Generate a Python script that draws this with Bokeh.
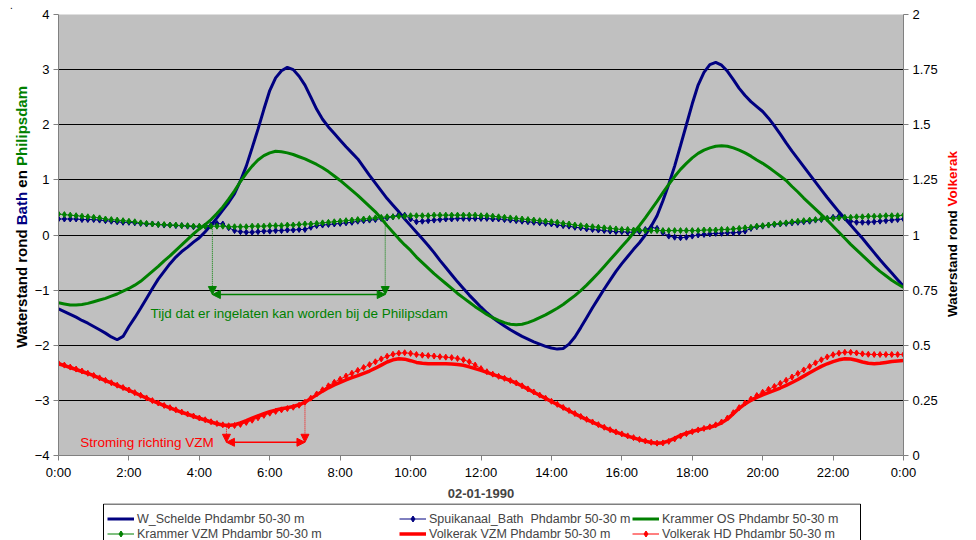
import numpy as np
from bokeh.plotting import figure
from bokeh.layouts import row, column
from bokeh.models import (Range1d, LinearAxis, FixedTicker, Label, Arrow,
                          NormalHead, Legend, LegendItem, ColumnDataSource, Div)
from bokeh.embed import file_html
from bokeh.resources import INLINE

# ---------------------------------------------------------------- data
# measurement times: 10-minute steps over 02-01-1990 (minutes after 0:00)
minutes = list(range(0, 1441, 10))

# water levels (m), one row per hour (6 readings), last value = 24:00
w_schelde = [
    -1.34, -1.39, -1.44, -1.49, -1.55, -1.60,
    -1.66, -1.72, -1.78, -1.85, -1.90, -1.84,
    -1.66, -1.50, -1.33, -1.15, -0.97, -0.80,
    -0.66, -0.52, -0.40, -0.30, -0.22, -0.13,
    -0.05, 0.06, 0.18, 0.31, 0.45, 0.59,
    0.75, 0.98, 1.25, 1.58, 1.92, 2.28,
    2.62, 2.85, 2.98, 3.04, 3.00, 2.88,
    2.72, 2.50, 2.28, 2.10, 1.96, 1.84,
    1.72, 1.60, 1.49, 1.38, 1.23, 1.08,
    0.94, 0.80, 0.66, 0.54, 0.42, 0.29,
    0.17, 0.05, -0.07, -0.19, -0.32, -0.46,
    -0.59, -0.72, -0.85, -0.97, -1.09, -1.20,
    -1.31, -1.41, -1.50, -1.58, -1.65, -1.72,
    -1.78, -1.84, -1.89, -1.94, -1.98, -2.02,
    -2.05, -2.07, -2.06, -1.98, -1.85, -1.68,
    -1.50, -1.32, -1.15, -0.98, -0.82, -0.66,
    -0.52, -0.39, -0.26, -0.14, 0.00, 0.16,
    0.35, 0.62, 0.92, 1.25, 1.62, 2.00,
    2.38, 2.72, 2.95, 3.09, 3.13, 3.08,
    2.97, 2.82, 2.66, 2.53, 2.42, 2.33,
    2.24, 2.12, 1.98, 1.83, 1.67, 1.52,
    1.38, 1.24, 1.10, 0.96, 0.82, 0.68,
    0.55, 0.42, 0.30, 0.18, 0.06, -0.06,
    -0.19, -0.32, -0.45, -0.57, -0.69, -0.81,
    -0.93,
]

spuikanaal_bath = [
    0.29, 0.29, 0.29, 0.29, 0.28, 0.28,
    0.28, 0.27, 0.26, 0.25, 0.24, 0.23,
    0.23, 0.22, 0.21, 0.20, 0.20, 0.19,
    0.18, 0.18, 0.17, 0.17, 0.16, 0.15,
    0.15, 0.16, 0.18, 0.21, 0.20, 0.13,
    0.08, 0.06, 0.05, 0.05, 0.06, 0.07,
    0.07, 0.08, 0.08, 0.09, 0.09, 0.10,
    0.10, 0.14, 0.17, 0.18, 0.19, 0.20,
    0.21, 0.22, 0.23, 0.25, 0.26, 0.27,
    0.28, 0.30, 0.31, 0.33, 0.37, 0.36,
    0.29, 0.24, 0.25, 0.26, 0.27, 0.28,
    0.29, 0.29, 0.30, 0.30, 0.30, 0.30,
    0.30, 0.30, 0.29, 0.29, 0.28, 0.27,
    0.26, 0.25, 0.24, 0.23, 0.22, 0.21,
    0.20, 0.18, 0.17, 0.16, 0.14, 0.13,
    0.11, 0.10, 0.09, 0.08, 0.07, 0.06,
    0.06, 0.05, 0.05, 0.06, 0.10, 0.14,
    0.12, 0.04, -0.02, -0.04, -0.05, -0.04,
    -0.02, 0.00, 0.01, 0.02, 0.03, 0.03,
    0.04, 0.04, 0.05, 0.07, 0.12, 0.15,
    0.16, 0.18, 0.19, 0.20, 0.21, 0.22,
    0.23, 0.24, 0.25, 0.27, 0.28, 0.30,
    0.32, 0.34, 0.31, 0.25, 0.23, 0.23,
    0.23, 0.24, 0.25, 0.26, 0.27, 0.28,
    0.29,
]

krammer_os = [
    -1.23, -1.25, -1.27, -1.27, -1.26, -1.24,
    -1.21, -1.18, -1.15, -1.11, -1.07, -1.02,
    -0.97, -0.91, -0.84, -0.75, -0.66, -0.57,
    -0.47, -0.38, -0.28, -0.18, -0.08, 0.02,
    0.11, 0.19, 0.28, 0.39, 0.51, 0.65,
    0.80, 0.97, 1.12, 1.25, 1.36, 1.44,
    1.49, 1.52, 1.51, 1.49, 1.46, 1.42,
    1.38, 1.33, 1.28, 1.22, 1.15, 1.07,
    0.99, 0.90, 0.81, 0.72, 0.62, 0.52,
    0.42, 0.30, 0.17, 0.05, -0.07, -0.18,
    -0.28, -0.40, -0.50, -0.60, -0.70, -0.79,
    -0.88, -0.97, -1.06, -1.14, -1.22, -1.30,
    -1.37, -1.44, -1.50, -1.55, -1.59, -1.62,
    -1.63, -1.62, -1.59, -1.55, -1.50, -1.45,
    -1.39, -1.33, -1.26, -1.18, -1.10, -1.01,
    -0.91, -0.80, -0.69, -0.57, -0.45, -0.33,
    -0.21, -0.09, 0.04, 0.17, 0.31, 0.46,
    0.61, 0.77, 0.92, 1.06, 1.19, 1.30,
    1.40, 1.48, 1.54, 1.58, 1.61, 1.62,
    1.61, 1.58, 1.54, 1.49, 1.43, 1.36,
    1.30, 1.23, 1.15, 1.07, 0.99, 0.88,
    0.78, 0.67, 0.57, 0.47, 0.37, 0.27,
    0.16, 0.05, -0.06, -0.17, -0.27, -0.37,
    -0.47, -0.57, -0.66, -0.74, -0.82, -0.89,
    -0.95,
]

krammer_vzm = [
    0.38, 0.37, 0.36, 0.35, 0.34, 0.33,
    0.32, 0.31, 0.29, 0.28, 0.27, 0.26,
    0.25, 0.24, 0.22, 0.21, 0.20, 0.19,
    0.19, 0.18, 0.18, 0.17, 0.17, 0.16,
    0.16, 0.16, 0.16, 0.16, 0.16, 0.15,
    0.15, 0.15, 0.15, 0.16, 0.16, 0.16,
    0.17, 0.17, 0.17, 0.18, 0.18, 0.19,
    0.20, 0.20, 0.21, 0.22, 0.23, 0.24,
    0.25, 0.26, 0.27, 0.28, 0.29, 0.30,
    0.31, 0.32, 0.33, 0.33, 0.34, 0.34,
    0.35, 0.35, 0.35, 0.35, 0.36, 0.36,
    0.36, 0.36, 0.36, 0.36, 0.36, 0.36,
    0.35, 0.35, 0.34, 0.33, 0.32, 0.31,
    0.30, 0.29, 0.28, 0.27, 0.26, 0.25,
    0.24, 0.23, 0.21, 0.20, 0.18, 0.17,
    0.16, 0.15, 0.14, 0.13, 0.12, 0.11,
    0.10, 0.10, 0.09, 0.09, 0.08, 0.08,
    0.08, 0.08, 0.08, 0.08, 0.08, 0.08,
    0.08, 0.08, 0.09, 0.09, 0.09, 0.10,
    0.10, 0.11, 0.12, 0.13, 0.14, 0.16,
    0.17, 0.18, 0.20, 0.21, 0.22, 0.24,
    0.25, 0.26, 0.27, 0.28, 0.29, 0.30,
    0.30, 0.31, 0.32, 0.32, 0.33, 0.33,
    0.34, 0.34, 0.34, 0.35, 0.35, 0.35,
    0.36,
]

# Volkerak levels belong to the right-hand axis
volkerak_vzm = [
    0.416, 0.408, 0.399, 0.390, 0.381, 0.372,
    0.362, 0.351, 0.340, 0.329, 0.318, 0.307,
    0.296, 0.284, 0.272, 0.260, 0.248, 0.237,
    0.226, 0.216, 0.206, 0.196, 0.187, 0.178,
    0.169, 0.161, 0.152, 0.144, 0.138, 0.136,
    0.140, 0.148, 0.158, 0.169, 0.180, 0.190,
    0.199, 0.206, 0.212, 0.217, 0.222, 0.230,
    0.242, 0.258, 0.275, 0.292, 0.307, 0.320,
    0.332, 0.343, 0.353, 0.362, 0.372, 0.383,
    0.396, 0.410, 0.424, 0.434, 0.439, 0.437,
    0.430, 0.422, 0.418, 0.416, 0.416, 0.416,
    0.416, 0.415, 0.413, 0.409, 0.402, 0.394,
    0.386, 0.377, 0.368, 0.359, 0.350, 0.340,
    0.328, 0.315, 0.301, 0.287, 0.273, 0.259,
    0.245, 0.231, 0.217, 0.203, 0.189, 0.176,
    0.163, 0.151, 0.139, 0.127, 0.116, 0.106,
    0.097, 0.088, 0.080, 0.072, 0.065, 0.059,
    0.056, 0.058, 0.066, 0.078, 0.091, 0.101,
    0.109, 0.116, 0.122, 0.128, 0.136, 0.148,
    0.165, 0.190, 0.214, 0.234, 0.250, 0.263,
    0.275, 0.285, 0.295, 0.306, 0.318, 0.331,
    0.345, 0.360, 0.375, 0.390, 0.404, 0.416,
    0.426, 0.434, 0.439, 0.438, 0.432, 0.424,
    0.418, 0.416, 0.418, 0.422, 0.426, 0.429,
    0.431,
]

volkerak_hd = [
    0.418, 0.410, 0.401, 0.392, 0.383, 0.373,
    0.363, 0.352, 0.341, 0.330, 0.319, 0.308,
    0.297, 0.285, 0.273, 0.261, 0.249, 0.238,
    0.227, 0.217, 0.207, 0.197, 0.188, 0.179,
    0.170, 0.162, 0.153, 0.145, 0.139, 0.135,
    0.136, 0.141, 0.150, 0.160, 0.171, 0.182,
    0.192, 0.200, 0.207, 0.213, 0.219, 0.228,
    0.242, 0.260, 0.279, 0.298, 0.316, 0.332,
    0.346, 0.360, 0.373, 0.386, 0.399, 0.412,
    0.425, 0.438, 0.450, 0.459, 0.464, 0.466,
    0.463, 0.458, 0.455, 0.453, 0.451, 0.448,
    0.446, 0.444, 0.440, 0.434, 0.425, 0.410,
    0.394, 0.380, 0.369, 0.359, 0.350, 0.340,
    0.329, 0.316, 0.302, 0.288, 0.274, 0.260,
    0.246, 0.232, 0.218, 0.204, 0.190, 0.177,
    0.164, 0.152, 0.140, 0.128, 0.117, 0.107,
    0.098, 0.089, 0.081, 0.073, 0.066, 0.060,
    0.056, 0.057, 0.064, 0.075, 0.088, 0.099,
    0.108, 0.116, 0.123, 0.130, 0.139, 0.152,
    0.170, 0.194, 0.217, 0.238, 0.256, 0.272,
    0.287, 0.300, 0.313, 0.327, 0.341, 0.356,
    0.372, 0.388, 0.404, 0.420, 0.434, 0.447,
    0.457, 0.464, 0.468, 0.468, 0.465, 0.461,
    0.459, 0.458, 0.458, 0.458, 0.458, 0.458,
    0.458,
]

series_names = [
    "W_Schelde Phdambr 50-30 m",
    "Spuikanaal_Bath  Phdambr 50-30 m",
    "Krammer OS Phdambr 50-30 m",
    "Krammer VZM Phdambr 50-30 m",
    "Volkerak VZM Phdambr 50-30 m",
    "Volkerak HD Phdambr 50-30 m",
]

# axis ticks
time_ticks = [0, 2, 4, 6, 8, 10, 12, 14, 16, 18, 20, 22, 24]
time_labels = ["0:00", "2:00", "4:00", "6:00", "8:00", "10:00", "12:00",
               "14:00", "16:00", "18:00", "20:00", "22:00", "0:00"]
left_ticks = [-4, -3, -2, -1, 0, 1, 2, 3, 4]
right_ticks = [0, 0.25, 0.5, 0.75, 1, 1.25, 1.5, 1.75, 2]
right_labels = ["0", "0.25", "0.5", "0.75", "1", "1.25", "1.5", "1.75", "2"]
date_label = "02-01-1990"

# annotated time windows (hours) with the levels where the arrows start/end
inlaat_window = [4.37, 9.28]
inlaat_from = [0.15, 0.28]
inlaat_level = -1.08
inlaat_text = "Tijd dat er ingelaten kan worden bij de Philipsdam"
stroming_window = [4.77, 7.0]
stroming_from = [0.137, 0.25]
stroming_level = 0.06
stroming_text = "Stroming richting VZM"

# axis titles, split where the colour changes
left_title = [("Waterstand rond ", "black"), ("Bath", "navy"),
              (" en ", "black"), ("Philipsdam", "green")]
right_title = [("Waterstand rond ", "black"), ("Volkerak", "red")]

# ---------------------------------------------------------------- styling
NAVY = "#000080"
GREEN = "#008000"
RED = "#FF0000"
COLORS = {"black": "#000000", "navy": NAVY, "green": GREEN, "red": RED}
FONT = "Liberation Sans"
PLOT_BG = "#C0C0C0"
AXIS_GREY = "#808080"

LEFT_W, RIGHT_W = 30, 36
MAIN_W = 976 - LEFT_W - RIGHT_W
TOP_H, LEG_H = 503, 37          # chart row and legend strip heights

hours = np.array(minutes) / 60.0
src = ColumnDataSource(dict(
    t=hours, ws=w_schelde, sb=spuikanaal_bath, kos=krammer_os,
    kvzm=krammer_vzm, vvzm=volkerak_vzm, vhd=volkerak_hd,
))

p = figure(width=MAIN_W, height=TOP_H, output_backend="svg",
           toolbar_location=None,
           x_range=Range1d(0, 24), y_range=Range1d(-4, 4),
           min_border_left=28, min_border_right=36, min_border_top=14,
           min_border_bottom=48)
p.background_fill_color = PLOT_BG
p.border_fill_color = "white"
p.outline_line_color = None
p.extra_y_ranges = {"volkerak": Range1d(0, 2)}

# grid: black horizontal lines at every metre
p.xgrid.visible = False
p.ygrid.ticker = FixedTicker(ticks=left_ticks)
p.ygrid.grid_line_color = "black"
p.ygrid.grid_line_width = 1


def style_axis(ax):
    ax.axis_line_color = AXIS_GREY
    ax.axis_line_width = 1
    ax.major_tick_line_color = AXIS_GREY
    ax.major_tick_in = 0
    ax.major_tick_out = 5
    ax.minor_tick_line_color = None
    ax.major_label_text_font = FONT
    ax.major_label_text_font_size = "13px"
    ax.major_label_text_color = "black"
    ax.major_label_standoff = 4


xa = p.xaxis[0]
style_axis(xa)
xa.ticker = FixedTicker(ticks=time_ticks)
xa.major_label_overrides = {t: lab for t, lab in zip(time_ticks, time_labels)}
xa.axis_label = date_label
xa.axis_label_text_font = FONT
xa.axis_label_text_font_style = "bold"
xa.axis_label_text_font_size = "13px"
xa.axis_label_standoff = 6

ya = p.yaxis[0]
style_axis(ya)
ya.ticker = FixedTicker(ticks=left_ticks)

ra = LinearAxis(y_range_name="volkerak")
style_axis(ra)
ra.ticker = FixedTicker(ticks=right_ticks)
ra.major_label_overrides = {t: lab for t, lab in zip(right_ticks, right_labels)}
p.add_layout(ra, "right")

# ---------------------------------------------------------------- series
# (name, column, colour, line width, with markers, axis)
series_style = [
    (series_names[0], "ws", NAVY, 3, False, "default"),
    (series_names[1], "sb", NAVY, 1, True, "default"),
    (series_names[2], "kos", GREEN, 3, False, "default"),
    (series_names[3], "kvzm", GREEN, 1, True, "default"),
    (series_names[4], "vvzm", RED, 3.5, False, "volkerak"),
    (series_names[5], "vhd", RED, 1, True, "volkerak"),
]

for name, col, color, lw, markers, yr in series_style:
    p.line("t", col, source=src, color=color, line_width=lw, y_range_name=yr)
    if markers:
        p.scatter("t", col, source=src, marker="diamond", size=6,
                  color=color, y_range_name=yr)


# ---------------------------------------------------------------- annotations
def head(color):
    return NormalHead(size=8, fill_color=color, line_color=color)


for xw, y0 in zip(inlaat_window, inlaat_from):
    p.add_layout(Arrow(end=head(GREEN), start=None, x_start=xw, y_start=y0,
                       x_end=xw, y_end=inlaat_level, line_color=GREEN,
                       line_width=1, line_dash="1 1"))
p.add_layout(Arrow(start=head(GREEN), end=head(GREEN),
                   x_start=inlaat_window[0], y_start=inlaat_level,
                   x_end=inlaat_window[1], y_end=inlaat_level,
                   line_color=GREEN, line_width=1.5))
p.add_layout(Label(x=2.61, y=-1.42, text=inlaat_text, text_color=GREEN,
                   text_font=FONT, text_font_size="13.5px",
                   text_baseline="middle", text_align="left"))

for xw, y0 in zip(stroming_window, stroming_from):
    p.add_layout(Arrow(end=head(RED), start=None, x_start=xw, y_start=y0,
                       x_end=xw, y_end=stroming_level, line_color=RED,
                       line_width=1, line_dash="1 1",
                       y_range_name="volkerak"))
p.add_layout(Arrow(start=head(RED), end=head(RED),
                   x_start=stroming_window[0], y_start=stroming_level,
                   x_end=stroming_window[1], y_end=stroming_level,
                   line_color=RED, line_width=1.5, y_range_name="volkerak"))
p.add_layout(Label(x=0.62, y=stroming_level, y_range_name="volkerak",
                   text=stroming_text, text_color=RED, text_font=FONT,
                   text_font_size="13.5px", text_baseline="middle",
                   text_align="left"))


# ---------------------------------------------------------------- axis titles
# rotated, multi-coloured titles as HTML text in narrow strips either side
def title_div(width, pieces, left_px, center_px, size_px, extra=""):
    spans = "".join(
        f'<span style="color:{COLORS[c]}">{t.replace(" ", "&nbsp;")}</span>'
        for t, c in pieces)
    html = (
        f'<div style="position:relative;width:{width}px;height:{TOP_H}px;'
        f"font-family:'{FONT}',Arial,sans-serif;background:#fff\">"
        f"{extra}"
        f'<div style="position:absolute;left:{left_px}px;top:{center_px}px;'
        f"transform:translateY(-50%) rotate(180deg);"
        f"writing-mode:vertical-rl;white-space:nowrap;font-weight:bold;"
        f'font-size:{size_px}px;line-height:17px">{spans}</div></div>')
    return Div(text=html, width=width, height=TOP_H, margin=0)


dot = ('<span style="position:absolute;left:10px;top:0px;font-size:10px;'
       'line-height:11px;font-weight:normal">.</span>')
left_strip = title_div(LEFT_W, left_title, 13, 217, 15, extra=dot)
right_strip = title_div(RIGHT_W, right_title, 3.5, 234, 13.5)

# ---------------------------------------------------------------- legend
# legend strip under the chart (pixel-sized ranges); proxies repeat each
# series' styling and sit outside the visible range
leg_fig = figure(width=976, height=LEG_H, output_backend="svg",
                 toolbar_location=None, x_range=Range1d(0, 976),
                 y_range=Range1d(0, LEG_H), x_axis_type=None,
                 y_axis_type=None, min_border=0)
leg_fig.outline_line_color = None
leg_fig.background_fill_color = "white"
leg_fig.border_fill_color = "white"
leg_fig.xgrid.visible = False
leg_fig.ygrid.visible = False
leg_fig.quad(left=[103], right=[860], bottom=[-20], top=[LEG_H - 0.5],
             fill_color="white", line_color="black", line_width=1)

legend_columns = [[0, 3], [1, 4], [2, 5]]     # series indices per column
legend_x = [107, 399, 632]

for col_items, lx in zip(legend_columns, legend_x):
    items = []
    for i in col_items:
        name, col, color, lw, markers, yr = series_style[i]
        rs = [leg_fig.line([-50, -40], [-50, -50], color=color,
                           line_width=lw)]
        if markers:
            rs.append(leg_fig.scatter([-45], [-50], marker="diamond", size=6,
                                      color=color))
        items.append(LegendItem(label=name, renderers=rs))
    leg_fig.add_layout(Legend(
        items=items, orientation="vertical", location=(lx, LEG_H - 38),
        label_text_font=FONT, label_text_font_size="12.5px",
        glyph_width=27, glyph_height=15, label_height=15, label_standoff=3,
        spacing=0, padding=9, margin=0,
        border_line_color=None, background_fill_alpha=0,
    ), "center")

layout = column(row(left_strip, p, right_strip), leg_fig)
open("out.html", "w").write(file_html(layout, INLINE))
